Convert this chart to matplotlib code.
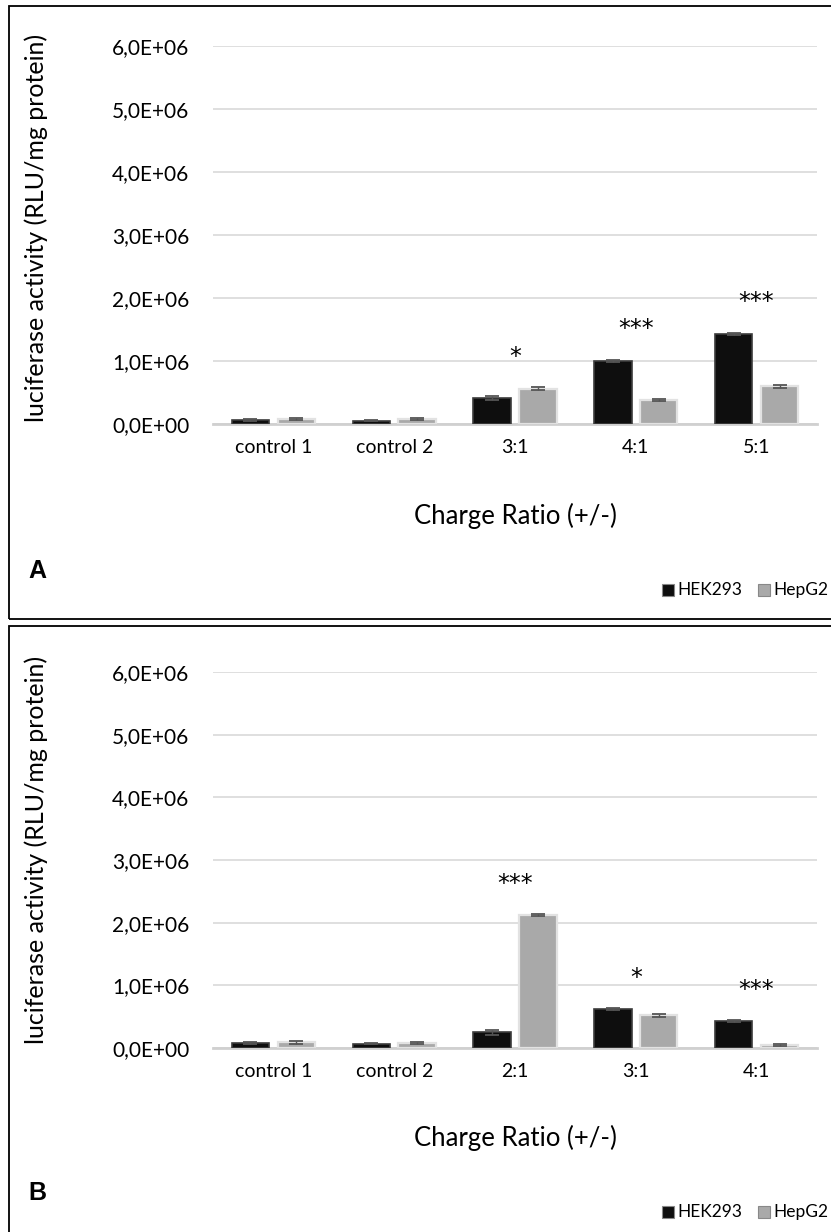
import matplotlib
matplotlib.use("Agg")
import matplotlib.pyplot as plt
import numpy as np
from matplotlib.patches import Rectangle
from matplotlib.ticker import FuncFormatter

plt.rcParams['font.family'] = ['Lato', 'DejaVu Sans']

# panel A data
cats_a = ["control 1", "control 2", "3:1", "4:1", "5:1"]
hek_a = [0.06e6, 0.05e6, 0.41e6, 1.00e6, 1.43e6]
hep_a = [0.08e6, 0.08e6, 0.56e6, 0.38e6, 0.60e6]
hek_a_err = [0.015e6, 0.01e6, 0.03e6, 0.02e6, 0.02e6]
hep_a_err = [0.02e6, 0.02e6, 0.02e6, 0.02e6, 0.025e6]
sig_a = ["", "", "*", "***", "***"]

# panel B data
cats_b = ["control 1", "control 2", "2:1", "3:1", "4:1"]
hek_b = [0.08e6, 0.07e6, 0.25e6, 0.62e6, 0.43e6]
hep_b = [0.09e6, 0.08e6, 2.12e6, 0.52e6, 0.05e6]
hek_b_err = [0.015e6, 0.01e6, 0.04e6, 0.02e6, 0.02e6]
hep_b_err = [0.02e6, 0.02e6, 0.02e6, 0.03e6, 0.02e6]
sig_b = ["", "", "***", "*", "***"]

yticks = [0, 1e6, 2e6, 3e6, 4e6, 5e6, 6e6]

W, H = 831, 1232
fig = plt.figure(figsize=(W / 100, H / 100), dpi=100)

HEK_COL, HEK_EDGE = "#0e0e0e", "#3c3c3c"
HEP_COL, HEP_EDGE = "#a9a9a9", "#e2e2e2"


def sci_comma(v, pos):
    return ("%.1E" % v).replace(".", ",")


def draw_panel(rect, cats, hek, hep, hek_err, hep_err, sig):
    ax = fig.add_axes(rect)
    x = np.arange(len(cats))
    bw = 0.31
    off = 0.19
    ax.bar(x - off, hek, bw, color=HEK_COL, edgecolor=HEK_EDGE, linewidth=1.2, zorder=3)
    ax.bar(x + off, hep, bw, color=HEP_COL, edgecolor=HEP_EDGE, linewidth=1.6, zorder=3)
    ax.errorbar(x - off, hek, yerr=hek_err, fmt="none", ecolor="#555555",
                elinewidth=1, capsize=5, capthick=1.3, zorder=4)
    ax.errorbar(x + off, hep, yerr=hep_err, fmt="none", ecolor="#555555",
                elinewidth=1, capsize=5, capthick=1.3, zorder=4)
    for i, s in enumerate(sig):
        if s:
            top = max(hek[i], hep[i])
            ax.text(x[i], top + 0.5e6, s, ha="center", va="center", fontsize=17,
                    family="DejaVu Sans")
    ax.set_xlim(-0.5, len(cats) - 0.5)
    ax.set_ylim(0, 6e6)
    ax.set_yticks(yticks)
    ax.yaxis.set_major_formatter(FuncFormatter(sci_comma))
    ax.set_xticks(x)
    ax.set_xticklabels(cats, fontsize=14)
    ax.tick_params(axis="both", length=0)
    ax.tick_params(axis="y", labelsize=15, pad=17)
    ax.tick_params(axis="x", pad=11)
    ax.grid(axis="y", color="#d9d9d9", linewidth=1.2, zorder=0)
    for sp in ["top", "right", "left"]:
        ax.spines[sp].set_visible(False)
    ax.spines["bottom"].set_color("#d0d0d0")
    ax.spines["bottom"].set_linewidth(2)
    return ax


axA = draw_panel([213 / W, 1 - 424 / H, 604 / W, 378 / H],
                 cats_a, hek_a, hep_a, hek_a_err, hep_a_err, sig_a)
axB = draw_panel([213 / W, 1 - 1048 / H, 604 / W, 376 / H],
                 cats_b, hek_b, hep_b, hek_b_err, hep_b_err, sig_b)

# panel frames
fig.patches.append(Rectangle((9 / W, 1 - 619 / H), 1.0, 613 / H, transform=fig.transFigure,
                             fill=False, edgecolor="black", linewidth=1.3))
fig.patches.append(Rectangle((9 / W, -0.05), 1.0, 1 - 626 / H + 0.05, transform=fig.transFigure,
                             fill=False, edgecolor="black", linewidth=1.3))

fig.canvas.draw()
renderer = fig.canvas.get_renderer()

for off_y, letter in [(0, "A"), (622, "B")]:
    fig.text(36 / W, 1 - (228 + off_y) / H, "luciferase activity (RLU/mg protein)",
             rotation=90, ha="center", va="center", fontsize=18)
    fig.text(515 / W, 1 - (516 + off_y) / H, "Charge Ratio (+/-)",
             ha="center", va="center", fontsize=18.5)
    fig.text(28 / W, 1 - (571 + off_y) / H, letter, ha="left", va="center",
             fontsize=18, fontweight="bold", family="Liberation Sans")
    # legend, laid out from the right edge
    ly = 1 - (590 + off_y) / H
    xr = 828
    for name, fc, ec in [("HepG2", HEP_COL, HEP_EDGE), ("HEK293", HEK_COL, HEK_EDGE)]:
        t = fig.text(xr / W, ly, name, ha="right", va="center", fontsize=12.5)
        tw = t.get_window_extent(renderer).width
        sq_x = xr - tw - 15
        fig.patches.append(Rectangle((sq_x / W, ly - 6 / H), 12 / W, 12 / H,
                                     transform=fig.transFigure, facecolor=fc,
                                     edgecolor="#888888", linewidth=0.8))
        xr = sq_x - 16

fig.savefig("out.png", dpi=100)
